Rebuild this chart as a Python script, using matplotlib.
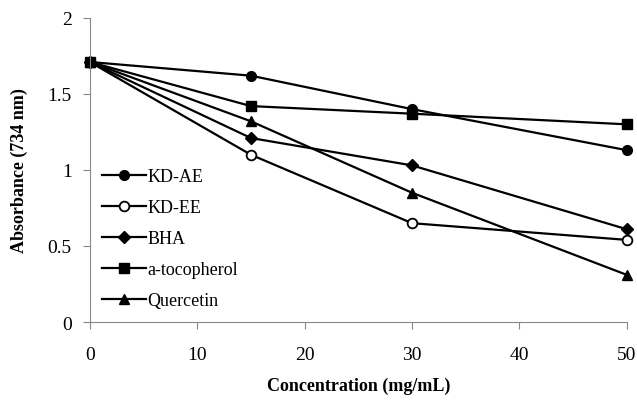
import matplotlib.pyplot as plt

conc = [0, 15, 30, 50]
kd_ae = [1.71, 1.62, 1.40, 1.13]
kd_ee = [1.71, 1.10, 0.65, 0.54]
bha = [1.71, 1.21, 1.03, 0.61]
toco = [1.71, 1.42, 1.37, 1.30]
quer = [1.71, 1.32, 0.85, 0.31]

plt.rcParams['font.family'] = 'Liberation Serif'

fig = plt.figure(figsize=(6.37, 4.02), dpi=100)
ax = fig.add_axes([0.141, 0.1965, 0.843, 0.7565])

kw = dict(color='black', lw=1.6, ms=7)
ax.plot(conc, kd_ae, marker='o', label='KD-AE', **kw)
ax.plot(conc, kd_ee, marker='o', mfc='white', mew=1.3, label='KD-EE', **kw)
ax.plot(conc, bha, marker='D', ms=6, color='black', lw=1.6, label='BHA')
ax.plot(conc, toco, marker='s', label='a-tocopherol', **kw)
ax.plot(conc, quer, marker='^', label='Quercetin', **kw)

ax.set_xlim(0, 50)
ax.set_ylim(0, 2)
ax.set_xticks([0, 10, 20, 30, 40, 50])
ax.set_yticks([0, 0.5, 1, 1.5, 2])
ax.set_yticklabels(['0', '0.5', '1', '1.5', '2'])
for s in ['top', 'right']:
    ax.spines[s].set_visible(False)
for s in ['left', 'bottom']:
    ax.spines[s].set_color('#888888')
ax.tick_params(colors='#888888', labelcolor='black', labelsize=14, length=5, direction='out')
ax.tick_params(axis='x', pad=12)
ax.tick_params(axis='y', pad=8)
for l in ax.lines:
    l.set_clip_on(False)

ax.set_xlabel('Concentration (mg/mL)', fontsize=13, fontweight='bold', labelpad=10)
ax.set_ylabel('Absorbance (734 nm)', fontsize=13, fontweight='bold', labelpad=14)

ax.legend(loc='lower left', bbox_to_anchor=(0.0, 0.0), frameon=False, fontsize=13,
          handlelength=2.4, labelspacing=0.78, handletextpad=0.1, borderaxespad=0.3)

fig.savefig('out.png', dpi=100)
